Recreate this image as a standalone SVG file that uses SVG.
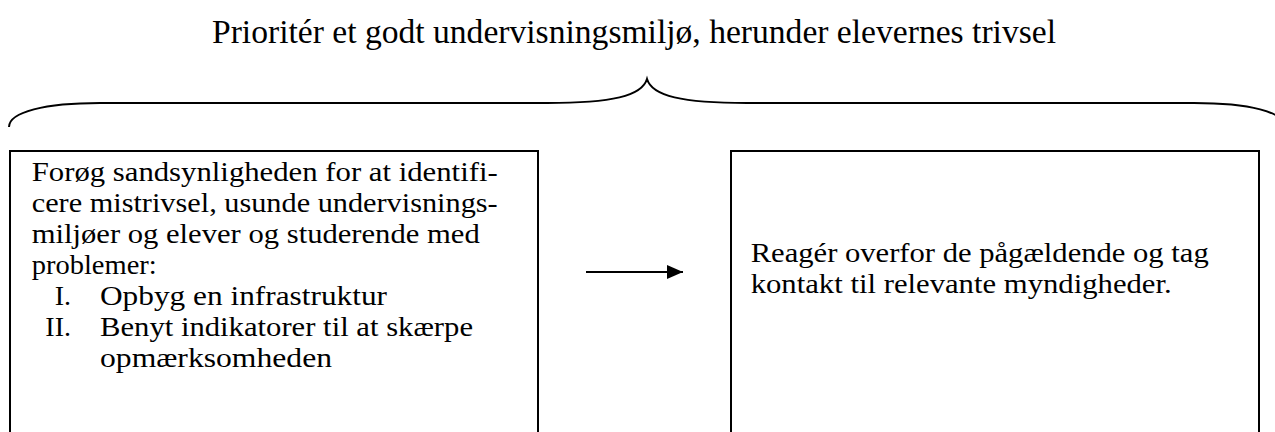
<svg xmlns="http://www.w3.org/2000/svg" width="1275" height="432" viewBox="0 0 1275 432">
  <style>
    .t { font-family: "Liberation Serif", "Times New Roman", serif; fill: #000; }
    .title { font-size: 33.3px; }
    .body { font-size: 28px; }
    .box { fill: #fff; stroke: #000; stroke-width: 2; }
    .brace { fill: none; stroke: #000; stroke-width: 2; }
    .conn { fill: none; stroke: #000; stroke-width: 2; }
  </style>
  <defs>
    <marker id="arrow" viewBox="0 0 16 14" refX="16" refY="7" markerWidth="16" markerHeight="14" markerUnits="userSpaceOnUse" orient="auto">
      <path d="M0,0 L16,7 L0,14 Z" fill="#000"/>
    </marker>
  </defs>
  <rect width="1275" height="432" fill="#fff"/>

  <g id="title">
    <text class="t title" x="212" y="43" textLength="844" lengthAdjust="spacingAndGlyphs">Prioritér et godt undervisningsmiljø, herunder elevernes trivsel</text>
  </g>

  <g id="brace">
    <path class="brace" d="M9,127 C9,112 45,103 100,103 L547,103 C612,103 642,96 647,79 C652,96 682,103 747,103 L1194,103 C1249,103 1285,112 1285,127"/>
  </g>

  <g id="node-left">
    <rect class="box" x="10" y="151" width="528" height="300"/>
    <text class="t body">
      <tspan x="31.7" y="181" textLength="466" lengthAdjust="spacingAndGlyphs">Forøg sandsynligheden for at identifi-</tspan>
      <tspan x="31.7" y="212" textLength="466" lengthAdjust="spacingAndGlyphs">cere mistrivsel, usunde undervisnings-</tspan>
      <tspan x="31.7" y="243" textLength="448" lengthAdjust="spacingAndGlyphs">miljøer og elever og studerende med</tspan>
      <tspan x="31.7" y="274" textLength="125" lengthAdjust="spacingAndGlyphs">problemer:</tspan>
      <tspan x="78" y="305" text-anchor="end">I.</tspan>
      <tspan x="100" y="305" text-anchor="start" textLength="287" lengthAdjust="spacingAndGlyphs">Opbyg en infrastruktur</tspan>
      <tspan x="78" y="336" text-anchor="end">II.</tspan>
      <tspan x="100" y="336" text-anchor="start" textLength="373" lengthAdjust="spacingAndGlyphs">Benyt indikatorer til at skærpe</tspan>
      <tspan x="100" y="367" text-anchor="start" textLength="232" lengthAdjust="spacingAndGlyphs">opmærksomheden</tspan>
    </text>
  </g>

  <g id="node-right">
    <rect class="box" x="731" y="151" width="528" height="300"/>
    <text class="t body">
      <tspan x="750.7" y="262" textLength="458" lengthAdjust="spacingAndGlyphs">Reagér overfor de pågældende og tag</tspan>
      <tspan x="750.7" y="293" textLength="421" lengthAdjust="spacingAndGlyphs">kontakt til relevante myndigheder.</tspan>
    </text>
  </g>

  <g id="connectors">
    <line class="conn" x1="586" y1="272" x2="683" y2="272" marker-end="url(#arrow)"/>
  </g>
</svg>
